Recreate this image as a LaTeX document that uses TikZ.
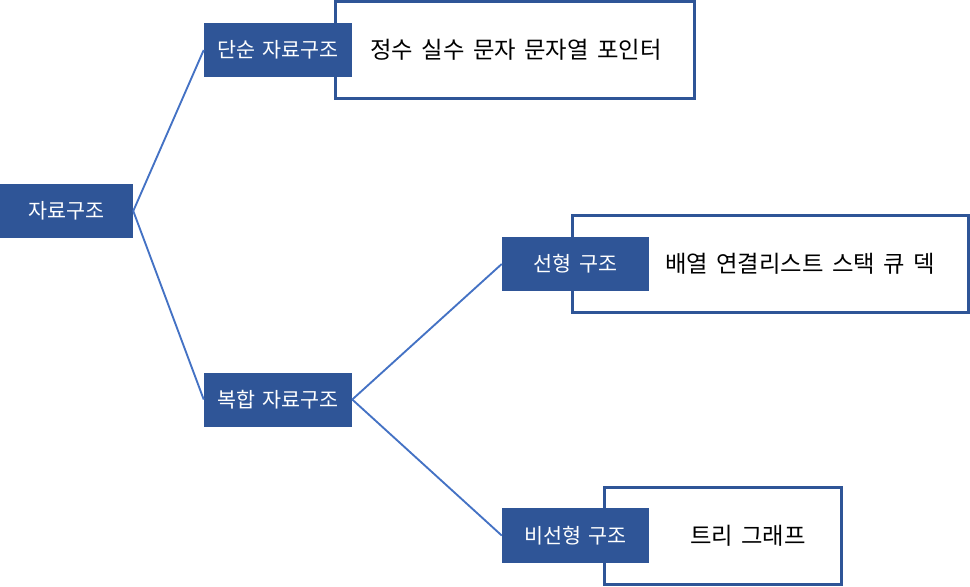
\documentclass[tikz,border=0pt]{standalone}
\usepackage{fontspec}
\setmainfont[WordSpace=1.6]{Noto Sans CJK KR}
\definecolor{boxblue}{HTML}{2F5597}
\definecolor{linkblue}{HTML}{4472C4}
\begin{document}
\begin{tikzpicture}[x=0.75pt,y=-0.75pt,
  bluebox/.style={fill=boxblue,text=white,inner sep=0,font=\fontsize{15.5}{18}\selectfont,anchor=center},
  whitebox/.style={draw=boxblue,line width=2.25pt,fill=white,inner sep=0},
  itemtext/.style={text=black,inner sep=0,font=\fontsize{17.5}{20}\selectfont},
  link/.style={draw=linkblue,line width=1.4pt}]
\useasboundingbox (0,0) rectangle (970,586);
% white boxes
\node[whitebox,minimum width=269.25pt,minimum height=72.75pt] (w1) at (515,50) {};
\node[whitebox,minimum width=297pt,minimum height=72.75pt] (w2) at (770.5,264) {};
\node[whitebox,minimum width=177.75pt,minimum height=72.75pt] (w3) at (723,535.5) {};
% item texts
\node[itemtext] (t1) at (516,50) {정수 실수 문자 문자열 포인터};
\node[itemtext] (t2) at (800,264) {배열 연결리스트 스택 큐 덱};
\node[itemtext] (t3) at (748,535.5) {트리 그래프};
% blue boxes
\node[bluebox,minimum width=99.75pt,minimum height=40.5pt] (root) at (66.5,211) {자료구조};
\node[bluebox,minimum width=111pt,minimum height=40.5pt] (simple) at (278,50) {단순 자료구조};
\node[bluebox,minimum width=111pt,minimum height=40.5pt] (comp) at (278,399.5) {복합 자료구조};
\node[bluebox,minimum width=110.25pt,minimum height=40.5pt] (lin) at (575.5,264) {선형 구조};
\node[bluebox,minimum width=110.25pt,minimum height=41.25pt] (nonlin) at (575.5,535.5) {비선형 구조};
% connectors
\draw[link] (root.east) -- (simple.west);
\draw[link] (root.east) -- (comp.west);
\draw[link] (comp.east) -- (lin.west);
\draw[link] (comp.east) -- (nonlin.west);
\end{tikzpicture}
\end{document}
